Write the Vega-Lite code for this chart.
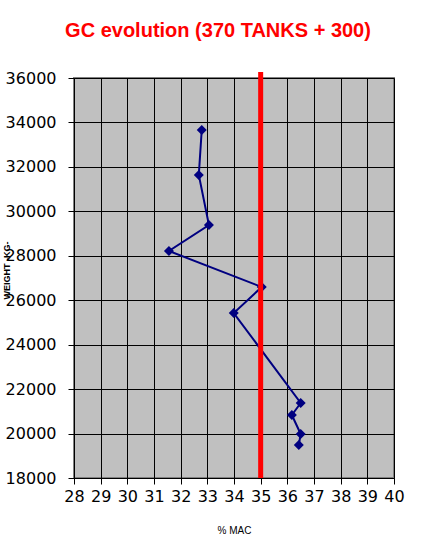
{
  "$schema": "https://vega.github.io/schema/vega-lite/v6.json",
  "autosize": "none",
  "width": 320,
  "height": 400,
  "padding": {"left": 74, "top": 78, "right": 41, "bottom": 67},
  "background": "white",
  "title": {
    "text": "GC evolution (370 TANKS + 300)",
    "color": "#FF0000",
    "font": "Liberation Sans",
    "fontSize": 20,
    "fontWeight": "bold",
    "anchor": "middle",
    "dx": -16,
    "offset": 29
  },
  "config": {
    "view": {"fill": "#C0C0C0", "stroke": "#808080", "strokeWidth": 2}
  },
  "datasets": {
    "gc": [
      {"step": 1, "mac": 32.79, "weight": 33660},
      {"step": 2, "mac": 32.68, "weight": 31635},
      {"step": 3, "mac": 33.06, "weight": 29385},
      {"step": 4, "mac": 31.56, "weight": 28215},
      {"step": 5, "mac": 35.04, "weight": 26595},
      {"step": 6, "mac": 33.99, "weight": 25425},
      {"step": 7, "mac": 36.5, "weight": 21375},
      {"step": 8, "mac": 36.17, "weight": 20835},
      {"step": 9, "mac": 36.5, "weight": 19980},
      {"step": 10, "mac": 36.43, "weight": 19485}
    ],
    "limit": [{"mac": 35, "weight": 18000, "high": 36270}]
  },
  "data": {"name": "gc"},
  "encoding": {
    "x": {
      "field": "mac",
      "type": "quantitative",
      "scale": {"domain": [28, 40], "nice": false, "zero": false},
      "axis": {
        "values": [28, 29, 30, 31, 32, 33, 34, 35, 36, 37, 38, 39, 40],
        "labelFont": "DejaVu Sans",
        "labelFontSize": 16,
        "labelColor": "black",
        "labelOverlap": false,
        "labelFlush": false,
        "labelPadding": 4,
        "domainColor": "black",
        "tickColor": "black",
        "tickSize": 6,
        "gridColor": "black",
        "gridOpacity": 1,
        "title": "% MAC",
        "titleFont": "Liberation Sans",
        "titleColor": "black",
        "titleFontSize": 10,
        "titleFontWeight": "normal",
        "titlePadding": 21
      }
    },
    "y": {
      "field": "weight",
      "type": "quantitative",
      "scale": {"domain": [18000, 36000], "nice": false, "zero": false},
      "axis": {
        "values": [18000, 20000, 22000, 24000, 26000, 28000, 30000, 32000, 34000, 36000],
        "format": "d",
        "labelFont": "DejaVu Sans",
        "labelFontSize": 16,
        "labelColor": "black",
        "labelFlush": false,
        "labelPadding": 12,
        "domainColor": "black",
        "tickColor": "black",
        "tickSize": 6,
        "gridColor": "black",
        "gridOpacity": 1,
        "title": "WEIGHT -KG-",
        "titleFont": "Liberation Sans",
        "titleColor": "black",
        "titleFontSize": 9,
        "titleFontWeight": "bold",
        "titleX": -63,
        "titleY": 192
      }
    }
  },
  "layer": [
    {
      "mark": {"type": "line", "color": "#000080", "strokeWidth": 2},
      "encoding": {"order": {"field": "step"}}
    },
    {
      "mark": {"type": "point", "shape": "diamond", "filled": true, "color": "#000080", "opacity": 1, "size": 100}
    },
    {
      "data": {"name": "limit"},
      "mark": {"type": "rule", "color": "#FF0000", "strokeWidth": 5, "clip": false},
      "encoding": {"y2": {"field": "high"}}
    }
  ]
}
